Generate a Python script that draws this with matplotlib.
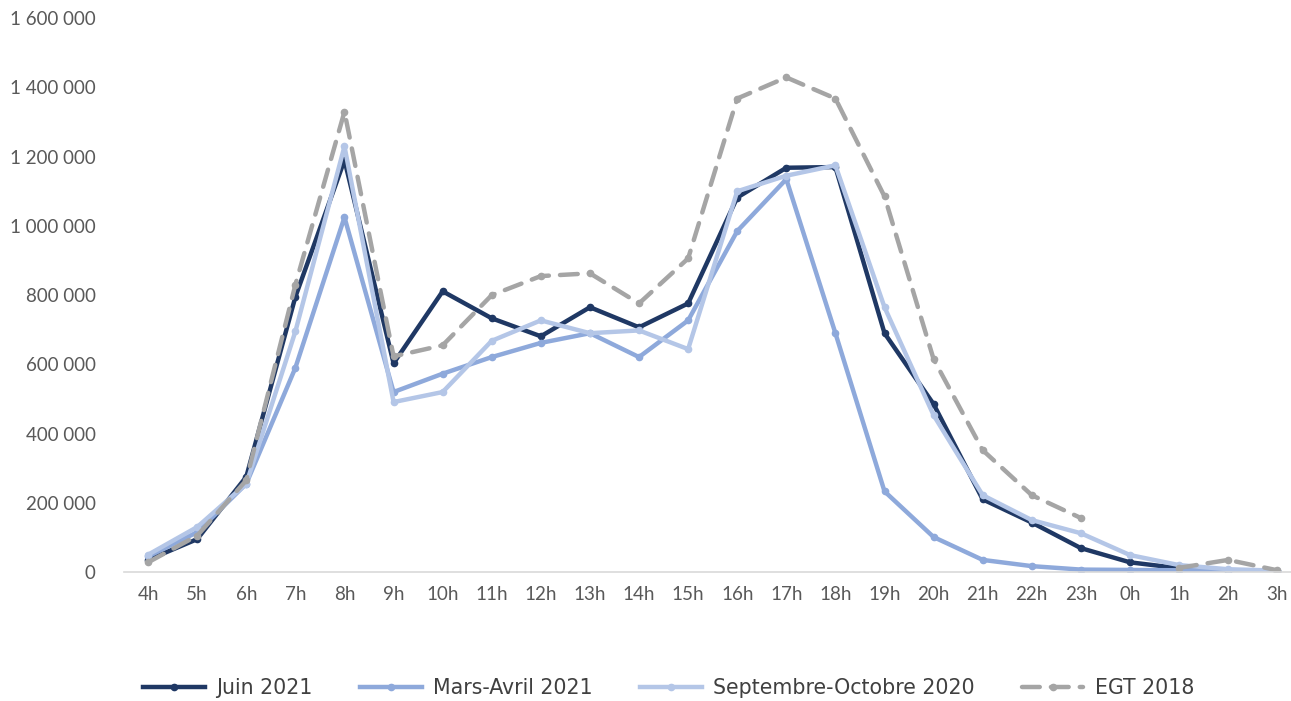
import numpy as np
import matplotlib
matplotlib.use("Agg")
import matplotlib.pyplot as plt
from matplotlib.ticker import FuncFormatter

# Hours of the day
hours = ["4h", "5h", "6h", "7h", "8h", "9h", "10h", "11h", "12h", "13h", "14h", "15h",
         "16h", "17h", "18h", "19h", "20h", "21h", "22h", "23h", "0h", "1h", "2h", "3h"]

juin_2021 = [35000, 95000, 275000, 795000, 1190000, 603000, 811000, 733000, 681000, 765000,
             707000, 776000, 1082000, 1168000, 1170000, 690000, 485000, 210000, 143000,
             69000, 28000, 11000, 5000, 3000]
mars_avril_2021 = [45000, 115000, 255000, 590000, 1025000, 520000, 573000, 621000, 662000,
                   690000, 621000, 727000, 985000, 1135000, 690000, 233000, 101000, 35000,
                   17000, 7000, 6000, 5000, 4000, 3000]
sept_oct_2020 = [50000, 130000, 255000, 695000, 1230000, 491000, 520000, 668000, 727000,
                 690000, 698000, 644000, 1100000, 1145000, 1175000, 765000, 453000, 222000,
                 150000, 112000, 49000, 20000, 8000, 4000]
egt_2018 = [28000, 105000, 265000, 830000, 1330000, 623000, 655000, 800000, 855000, 863000,
            776000, 906000, 1368000, 1429000, 1368000, 1085000, 615000, 352000, 222000,
            156000, np.nan, 12000, 35000, 5000]

x = np.arange(len(hours))

fig = plt.figure(figsize=(12.91, 7.01), dpi=100)
ax = fig.add_axes([0.0957, 0.184, 0.9043, 0.790])

ax.plot(x, juin_2021, color="#1F3864", lw=3.2, marker="o", ms=4.5, label="Juin 2021")
ax.plot(x, mars_avril_2021, color="#8EA9DB", lw=3.2, marker="o", ms=4.5, label="Mars-Avril 2021")
ax.plot(x, sept_oct_2020, color="#B4C6E7", lw=3.2, marker="o", ms=4.5, label="Septembre-Octobre 2020")
ax.plot(x, egt_2018, color="#A5A5A5", lw=3.2, marker="o", ms=4.5, ls=(0, (4, 2.5)),
        dash_capstyle="round", label="EGT 2018")

ax.set_xlim(-0.5, 23.28)
ax.set_ylim(0, 1600000)
ax.set_xticks(x)
ax.set_xticklabels(hours)
ax.set_yticks(np.arange(0, 1600001, 200000))
ax.yaxis.set_major_formatter(FuncFormatter(lambda v, p: "{:,.0f}".format(v).replace(",", " ")))

for s in ["top", "right", "left"]:
    ax.spines[s].set_visible(False)
ax.spines["bottom"].set_color("#D9D9D9")
ax.spines["bottom"].set_linewidth(1.2)
ax.tick_params(length=0, labelsize=13.5, colors="#595959", pad=10)
ax.tick_params(axis="y", pad=20)
for lab in ax.get_xticklabels() + ax.get_yticklabels():
    lab.set_fontfamily("Lato")

leg = fig.legend(loc="center", bbox_to_anchor=(0.518, 1 - 688 / 701), ncol=4, frameon=False,
                 handlelength=3.0, columnspacing=2.3, handletextpad=0.55,
                 prop={"size": 14.8})
for t in leg.get_texts():
    t.set_color("#404040")

fig.savefig("out.png", dpi=100)
